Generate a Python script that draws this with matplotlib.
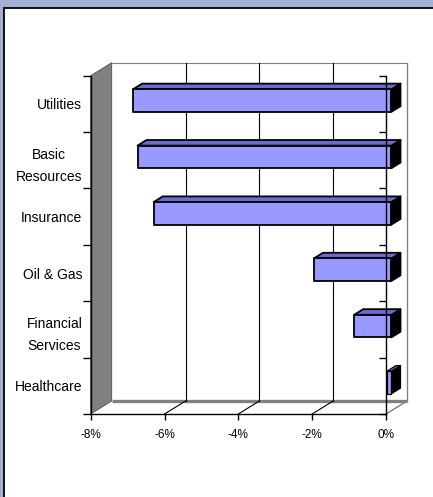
import matplotlib
matplotlib.use("Agg")
import matplotlib.pyplot as plt
from matplotlib.patches import Polygon, Rectangle
from matplotlib.lines import Line2D

categories = ["Utilities", "Basic\nResources", "Insurance", "Oil & Gas",
              "Financial\nServices", "Healthcare"]
values = [-7.0, -6.88, -6.44, -2.10, -1.01, -0.12]
xticks = [-8, -6, -4, -2, 0]
xticklabels = ["-8%", "-6%", "-4%", "-2%", "0%"]

W, H = 433, 497
fig = plt.figure(figsize=(W / 100, H / 100), dpi=100)
fig.patch.set_facecolor("#A4B0D6")
plt.rcParams["font.family"] = ["Liberation Sans", "DejaVu Sans"]

# white panel with black top/left border
fig.add_artist(Rectangle((4 / W, -0.1), 1.2, (H - 8) / H + 0.1,
                         transform=fig.transFigure, facecolor="white",
                         edgecolor="black", lw=1.3, zorder=0))

left_px, right_px, top_px, bot_px = 90.7, 386.0, 75.7, 414.0
ax = fig.add_axes([left_px / W, (H - bot_px) / H,
                   (right_px - left_px) / W, (bot_px - top_px) / H])
ax.patch.set_visible(False)
n = len(categories)
ax.set_xlim(-8, 0)
ax.set_ylim(n, 0)

# depth offsets in data units (21 px right, 13 px up)
ppx = (right_px - left_px) / 8.0
ppy = (bot_px - top_px) / n
DX = 21.0 / ppx
DY = 13.0 / ppy

gray = "#808080"
# back wall
back = Polygon([(-8 + DX, -DY), (DX, -DY), (DX, n - DY), (-8 + DX, n - DY)],
               closed=True, facecolor="white", edgecolor="none",
               clip_on=False, zorder=0.5)
ax.add_patch(back)
ax.add_line(Line2D([-8 + DX, DX], [-DY, -DY], color=gray, lw=0.8,
                   clip_on=False, zorder=0.6))
ax.add_line(Line2D([DX, DX], [-DY, n - DY], color=gray, lw=1.0,
                   clip_on=False, zorder=0.6))
ax.add_line(Line2D([-8 + DX, DX], [n - DY, n - DY], color=gray, lw=2.4,
                   clip_on=False, zorder=0.7, solid_capstyle="butt"))
ax.add_line(Line2D([0, DX], [n, n - DY], color=gray, lw=1.0,
                   clip_on=False, zorder=0.6))
# gridlines on back wall and floor
for xv in xticks[1:-1]:
    ax.add_line(Line2D([xv + DX, xv + DX], [-DY, n - DY], color="black",
                       lw=0.8, clip_on=False, zorder=0.8))
    ax.add_line(Line2D([xv, xv + DX], [n, n - DY], color="black",
                       lw=0.8, clip_on=False, zorder=0.8))
# left wall
lw_poly = Polygon([(-8, 0), (-8 + DX, -DY), (-8 + DX, n - DY), (-8, n)],
                  closed=True, facecolor=gray, edgecolor="#505050", lw=0.6,
                  clip_on=False, zorder=1)
ax.add_patch(lw_poly)

# bars
f0, f1 = 0.26, 0.69
b0, b1 = 0.30, 0.70
for i, v in enumerate(values):
    yt, yb = i + b0, i + b1
    o0 = (f0 * DX, -f0 * DY)
    o1 = (f1 * DX, -f1 * DY)
    side = [(0 + o0[0], yt + o0[1]), (0 + o1[0], yt + o1[1]),
            (0 + o1[0], yb + o1[1]), (0 + o0[0], yb + o0[1])]
    top = [(v + o0[0], yt + o0[1]), (0 + o0[0], yt + o0[1]),
           (0 + o1[0], yt + o1[1]), (v + o1[0], yt + o1[1])]
    front = [(v + o0[0], yt + o0[1]), (0 + o0[0], yt + o0[1]),
             (0 + o0[0], yb + o0[1]), (v + o0[0], yb + o0[1])]
    ew = 1.3 if abs(v) > 0.5 else 0.9
    for pts, fc in [(side, "#000000"), (top, "#6B6BD6"), (front, "#9999FF")]:
        ax.add_patch(Polygon(pts, closed=True, facecolor=fc,
                             edgecolor="black", lw=ew, joinstyle="round",
                             clip_on=False, zorder=2))

# axes, ticks, labels
for s in ["top", "right"]:
    ax.spines[s].set_visible(False)
for s in ["left", "bottom"]:
    ax.spines[s].set_linewidth(1.0)
    ax.spines[s].set_zorder(3)
ax.set_xticks(xticks)
ax.set_xticklabels(xticklabels, fontsize=8.5)
ax.tick_params(axis="x", direction="out", length=4.5, width=1.0, pad=6)
ax.set_yticks(range(n + 1))
ax.set_yticklabels([])
ax.set_yticks([i + 0.5 for i in range(n)], minor=True)
ax.set_yticklabels(categories, minor=True, fontsize=10,
                   multialignment="center", linespacing=1.75)
ax.tick_params(axis="y", which="major", direction="out", length=5.5,
               width=1.0)
ax.tick_params(axis="y", which="minor", length=0, pad=6)

sec = ax.secondary_yaxis("right")
sec.set_yticks(range(n + 1))
sec.set_yticklabels([])
sec.tick_params(direction="in", length=5, width=1.0)
sec.spines["right"].set_linewidth(1.0)
sec.set_zorder(5)

fig.savefig("out.png", dpi=100, facecolor=fig.get_facecolor())
